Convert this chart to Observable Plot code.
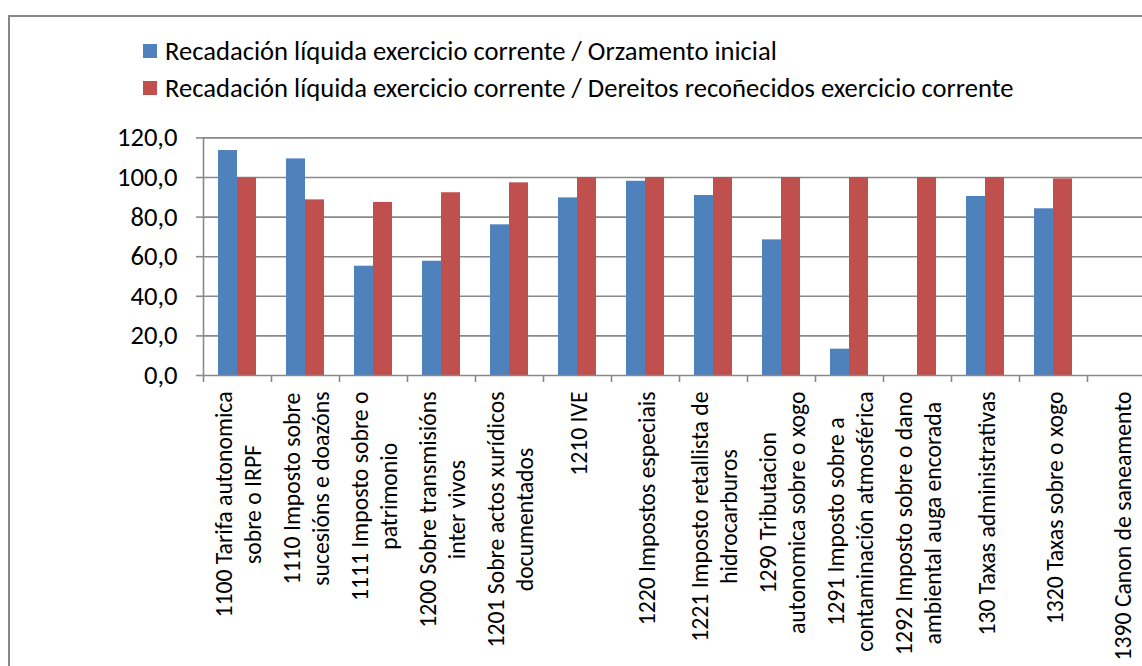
<!DOCTYPE html>
<html>
<head>
<meta charset="utf-8">
<script src="https://cdn.jsdelivr.net/npm/d3@7"></script>
<script src="https://cdn.jsdelivr.net/npm/@observablehq/plot@0.6"></script>
<style>
  html, body { margin: 0; padding: 0; background: #fff; overflow: hidden; }
  #wrap { position: relative; width: 1142px; height: 666px; overflow: hidden; font-family: Carlito, Lato, sans-serif; }
  #frame { position: absolute; left: 8px; top: 15px; width: 1200px; height: 720px; border: 2px solid #878787; box-sizing: border-box; }
  #legend { position: absolute; left: 143px; top: 32px; font-size: 26.6px; color: #000; }
  .item { display: flex; align-items: center; height: 37px; white-space: nowrap; }
  .sw { width: 14px; height: 14px; margin-right: 8px; flex: none; }
  #chart { position: absolute; left: 0; top: 118px; }
</style>
</head>
<body>
<div id="wrap">
  <div id="frame"></div>
  <div id="legend"></div>
  <div id="chart"></div>
</div>
<script>
const categories = [
  "1100 Tarifa autonomica\nsobre o IRPF",
  "1110 Imposto sobre\nsucesións e doazóns",
  "1111 Imposto sobre o\npatrimonio",
  "1200 Sobre transmisións\ninter vivos",
  "1201 Sobre actos xurídicos\ndocumentados",
  "1210 IVE",
  "1220 Impostos especiais",
  "1221 Imposto retallista de\nhidrocarburos",
  "1290 Tributacion\nautonomica sobre o xogo",
  "1291 Imposto sobre a\ncontaminación atmosférica",
  "1292 Imposto sobre o dano\nambiental auga encorada",
  "130 Taxas administrativas",
  "1320 Taxas sobre o xogo",
  "1390 Canon de saneamento"
];
const seriesNames = [
  "Recadación líquida exercicio corrente / Orzamento inicial",
  "Recadación líquida exercicio corrente / Dereitos recoñecidos exercicio corrente"
];
const seriesColors = ["#4F81BD", "#C0504D"];
const orzamentoValues = [113.6, 109.4, 55.2, 57.7, 76.1, 89.7, 98.1, 90.9, 68.5, 13.3, null, 90.4, 84.2, null];
const dereitosValues  = [99.9, 88.7, 87.4, 92.3, 97.3, 100, 100, 100, 100, 100, 100, 100, 99.3, null];
const yTicks = [0, 20, 40, 60, 80, 100, 120];

// legend
const legend = document.getElementById("legend");
seriesNames.forEach((name, i) => {
  const it = document.createElement("div");
  it.className = "item";
  const sw = document.createElement("span");
  sw.className = "sw";
  sw.style.background = seriesColors[i];
  const tx = document.createElement("span");
  tx.textContent = name;
  it.appendChild(sw); it.appendChild(tx);
  legend.appendChild(it);
});

const blueData = categories.map((c, i) => ({cat: c, v: orzamentoValues[i]})).filter(d => d.v != null);
const redData = categories.map((c, i) => ({cat: c, v: dereitosValues[i]})).filter(d => d.v != null);

const gray = "#898989";
const fmt = d => d.toFixed(1).replace(".", ",");
const fs = 26.6;
const fsX = 23.7;

const chart = Plot.plot({
  width: 1142,
  height: 548,
  marginLeft: 203,
  marginRight: -13,
  marginTop: 19.4,
  marginBottom: 291,
  style: {fontFamily: "Carlito, Lato, sans-serif", fontSize: fs + "px", color: "#000", background: "transparent", maxWidth: "none", overflow: "hidden"},
  x: {type: "band", domain: categories, padding: 0, axis: null},
  y: {domain: [0, 120], axis: null},
  marks: [
    Plot.gridY(yTicks.slice(1), {stroke: gray, strokeOpacity: 1, strokeWidth: 1.6}),
    Plot.barY(blueData, {x: "cat", y: "v", fill: seriesColors[0], insetLeft: 15, insetRight: 34}),
    Plot.barY(redData, {x: "cat", y: "v", fill: seriesColors[1], insetLeft: 34, insetRight: 15}),
    Plot.ruleY([0], {stroke: gray, strokeWidth: 1.6}),
    Plot.frame({anchor: "left", stroke: gray, strokeWidth: 1.6}),
    Plot.axisY(yTicks, {tickSize: 7, tickPadding: 19, tickFormat: fmt, stroke: gray, strokeWidth: 1.6, fill: "#000", fontSize: fs, label: null}),
    Plot.axisX(categories, {tickSize: 7, dx: -34, stroke: gray, strokeWidth: 1.6, fill: "none", label: null}),
    Plot.text(categories, {x: d => d, text: d => d, frameAnchor: "bottom", rotate: -90, textAnchor: "end", lineAnchor: "middle", lineHeight: 1.22, dy: 16, fontSize: fsX, fill: "#000", className: "xlab"})
  ]
});
document.getElementById("chart").appendChild(chart);

// center lines within each multi-line label (block stays top-aligned)
chart.querySelectorAll(".xlab text").forEach(t => {
  const spans = Array.from(t.querySelectorAll("tspan"));
  if (spans.length < 2) return;
  const lens = spans.map(s => s.getComputedTextLength());
  const maxLen = Math.max(...lens);
  spans.forEach((s, i) => s.setAttribute("x", -(maxLen - lens[i]) / 2));
});
</script>
</body>
</html>
